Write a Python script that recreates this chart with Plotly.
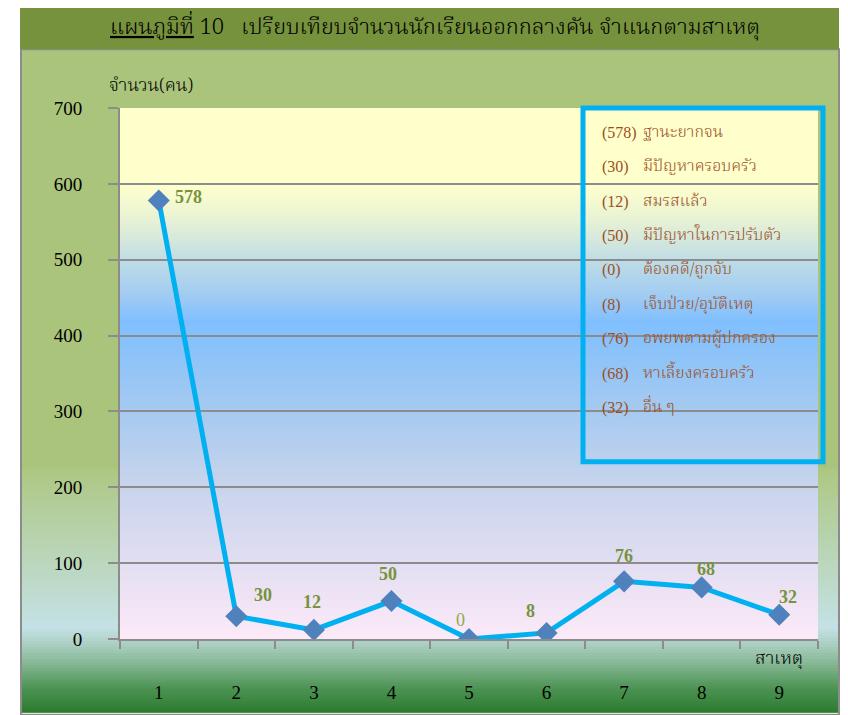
import plotly.graph_objects as go

# ---------------- data ----------------
categories = ["1", "2", "3", "4", "5", "6", "7", "8", "9"]
values = [578, 30, 12, 50, 0, 8, 76, 68, 32]
reasons = [
    "ฐานะยากจน",
    "มีปัญหาครอบครัว",
    "สมรสแล้ว",
    "มีปัญหาในการปรับตัว",
    "ต้องคดี/ถูกจับ",
    "เจ็บป่วย/อุบัติเหตุ",
    "อพยพตามผู้ปกครอง",
    "หาเลี้ยงครอบครัว",
    "อื่น ๆ",
]
y_ticks = [0, 100, 200, 300, 400, 500, 600, 700]
title_text = "<u>แผนภูมิที่</u>\u00a010\u00a0\u00a0 เปรียบเทียบจำนวนนักเรียนออกกลางคัน จำแนกตามสาเหตุ"
y_title = "จำนวน(คน)"
x_title = "สาเหตุ"

# ---------------- geometry / style (screen pixels) ----------------
OFF = 8                      # page body margin
W, H = 848, 715
L, R, T, B = 120, 818, 108, 641
PW, PH = R - L, B - T

def px(x):
    return (x - L) / PW

def py(y):
    return (B - y) / PH

def hex2rgb(h):
    h = h.lstrip("#")
    return tuple(int(h[i:i + 2], 16) for i in (0, 2, 4))

def grad_color(stops, y):
    for (y0, c0), (y1, c1) in zip(stops, stops[1:]):
        if y0 <= y <= y1:
            f = 0 if y1 == y0 else (y - y0) / (y1 - y0)
            a, b = hex2rgb(c0), hex2rgb(c1)
            return "rgb(%d,%d,%d)" % tuple(round(a[i] + (b[i] - a[i]) * f) for i in range(3))
    return stops[-1][1]

FONT_SERIF = "Liberation Serif, Times New Roman, serif"
FONT_THAI = "Noto Serif Thai, Noto Sans Thai, Garuda, Loma, Tahoma, Liberation Serif, serif"

shapes = []

# outer chart area with gradient
outer_stops = [(49, "#AAC47B"), (468, "#AAC47B"), (470, "#ADC782"), (560, "#BAD6BA"),
               (630, "#C4E1E6"), (648, "#A8CDBE"), (668, "#80B48E"), (690, "#4E9455"),
               (715, "#2B7A2E")]
shapes.append(dict(type="rect", xref="paper", yref="paper", x0=px(21), x1=px(839),
                   y0=py(715), y1=py(49), fillcolor="#AAC47B", line=dict(width=0), layer="below"))
step = 3
y = 466
while y < 715:
    shapes.append(dict(type="rect", xref="paper", yref="paper", x0=px(21), x1=px(839),
                       y0=py(min(y + step + 1, 715)), y1=py(y),
                       fillcolor=grad_color(outer_stops, y + step / 2), line=dict(width=0), layer="below"))
    y += step
shapes.append(dict(type="rect", xref="paper", yref="paper", x0=px(21), x1=px(839),
                   y0=py(717), y1=py(49), fillcolor="rgba(0,0,0,0)",
                   line=dict(width=2, color="#8C8C8C"), layer="below"))
# title bar
shapes.append(dict(type="rect", xref="paper", yref="paper", x0=px(20), x1=px(839),
                   y0=py(49), y1=py(5), fillcolor="#76923C", line=dict(width=0), layer="below"))

# plot area gradient
plot_stops = [(108, "#FFFFCC"), (185, "#FFFFCC"), (225, "#E4F0D6"), (262, "#BEDCE6"),
              (295, "#A2CCF2"), (322, "#80BFFF"), (345, "#88C2FA"), (412, "#A6CAF0"),
              (488, "#C8D4EC"), (564, "#E2DEF2"), (641, "#FCEAF8")]
y = T
while y < B:
    shapes.append(dict(type="rect", xref="paper", yref="paper", x0=0, x1=1,
                       y0=py(min(y + step + 1, B)), y1=py(y),
                       fillcolor=grad_color(plot_stops, y + step / 2), line=dict(width=0), layer="below"))
    y += step

# legend box
shapes.append(dict(type="rect", xref="paper", yref="paper", x0=px(583), x1=px(823),
                   y0=py(463), y1=py(108), fillcolor="rgba(0,0,0,0)",
                   line=dict(width=5, color="#00B0F0"), layer="above"))

fig = go.Figure()
fig.add_trace(go.Scatter(
    x=categories, y=values, mode="lines+markers",
    line=dict(color="#00B0F0", width=5),
    marker=dict(symbol="diamond", size=17, color="#4F81BD", line=dict(width=0)),
    hoverinfo="x+y",
))

annotations = []
# data labels (pixel offsets from each point)
label_offsets = [(30, 4), (27, 21), (-2, 28), (-3, 27), (-9, 19), (-16, 22), (0, 25), (4, 18), (9, 18)]
for i, (v, (dx, dy)) in enumerate(zip(values, label_offsets)):
    txt = ("<b>%d</b>" % v) if v else "%d" % v
    col = "#77933C" if v else "#8FA852"
    annotations.append(dict(x=i, y=v, xref="x", yref="y", text=txt, showarrow=False,
                            xshift=dx, yshift=dy,
                            font=dict(family=FONT_SERIF, size=18, color=col)))

# legend text
for i, (v, r) in enumerate(zip(values, reasons)):
    yy = 133 + i * 34.5
    annotations.append(dict(x=px(600), y=py(yy), xref="paper", yref="paper", text="(%d)" % v,
                            showarrow=False, xanchor="left", yanchor="middle",
                            font=dict(family=FONT_SERIF, size=16, color="#9C4F1E")))
    annotations.append(dict(x=px(641), y=py(yy), xref="paper", yref="paper", text=r,
                            showarrow=False, xanchor="left", yanchor="middle",
                            font=dict(family=FONT_THAI, size=16, color="#9C4F1E", weight=300)))

# title
annotations.append(dict(x=px(435), y=py(28), xref="paper", yref="paper", text=title_text,
                        showarrow=False, xanchor="center", yanchor="middle",
                        font=dict(family=FONT_THAI, size=22, color="#000000", weight=300)))
# axis titles
annotations.append(dict(x=px(151), y=py(86), xref="paper", yref="paper", text=y_title,
                        showarrow=False, xanchor="center", yanchor="middle",
                        font=dict(family=FONT_THAI, size=18, color="#000000", weight=300)))
annotations.append(dict(x=px(779), y=py(662), xref="paper", yref="paper", text=x_title,
                        showarrow=False, xanchor="center", yanchor="middle",
                        font=dict(family=FONT_THAI, size=18, color="#000000", weight=300)))

FW, FH = W - OFF, H - OFF
fig.update_layout(
    width=FW, height=FH,
    margin=dict(l=L - OFF, r=FW - (R - OFF), t=T - OFF, b=FH - (B - OFF), pad=0),
    paper_bgcolor="white",
    plot_bgcolor="rgba(0,0,0,0)",
    showlegend=False,
    shapes=shapes,
    annotations=annotations,
    xaxis=dict(type="category", categoryorder="array", categoryarray=categories,
               range=[-0.5, len(categories) - 0.5], autorange=False,
               tickson="boundaries", ticks="outside", ticklen=8, tickwidth=2, tickcolor="#8C8C8C",
               showgrid=False, showline=True, linecolor="#8C8C8C", linewidth=2,
               zeroline=False, ticklabelstandoff=35,
               tickfont=dict(family=FONT_SERIF, size=19, color="#000000")),
    yaxis=dict(range=[0, 700], tickvals=y_ticks, ticks="outside", ticklen=10, tickwidth=2,
               tickcolor="#8C8C8C", showgrid=True, gridcolor="#8C8C8C", gridwidth=2,
               showline=True, linecolor="#8C8C8C", linewidth=2, zeroline=False,
               ticklabelstandoff=22,
               tickfont=dict(family=FONT_SERIF, size=19, color="#000000")),
)

fig.write_html("out.html")
